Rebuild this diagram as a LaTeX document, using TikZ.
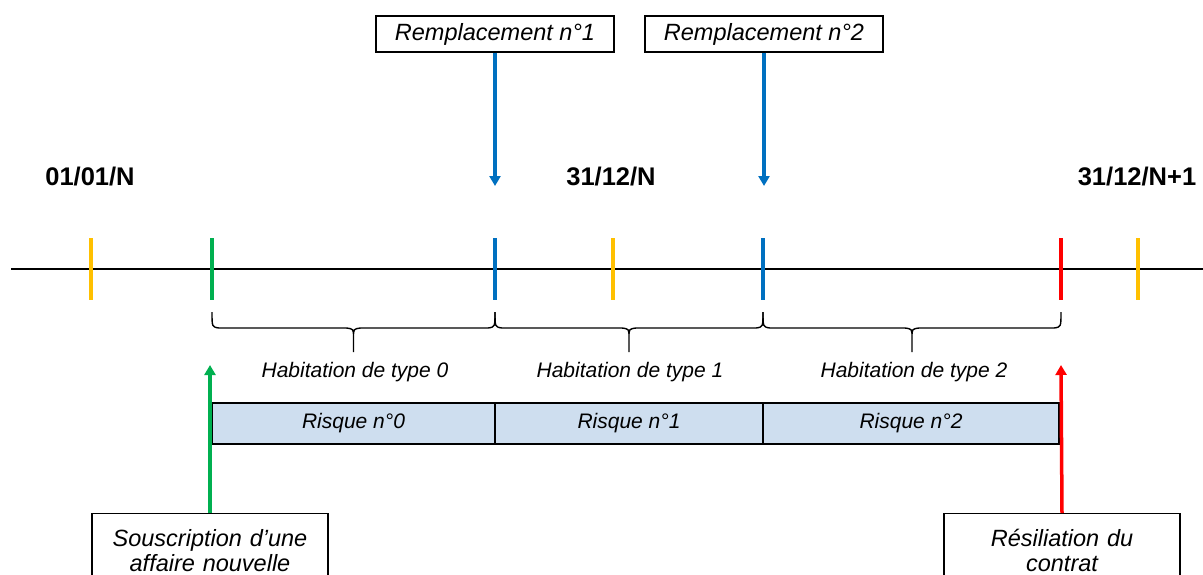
\documentclass[tikz,border=0pt]{standalone}
\usepackage{fontspec}
\setmainfont{Liberation Sans}
\usepackage{tikz}
\usetikzlibrary{arrows.meta}

\definecolor{tickyellow}{RGB}{255,192,0}
\definecolor{tickgreen}{RGB}{0,176,80}
\definecolor{tickblue}{RGB}{0,112,192}
\definecolor{tickred}{RGB}{255,0,0}
\definecolor{risquefill}{RGB}{206,222,239}

% curly bracket under a period, from x=#1 to x=#2
\newcommand{\periodbrace}[2]{%
  \draw[bracket] (#1,312) .. controls (#1,327) .. ({#1+7},328)
    -- ({(#1+#2)/2-7},328) .. controls ({(#1+#2)/2},329) .. ({(#1+#2)/2},337)
    -- ({(#1+#2)/2},352)
    ({(#1+#2)/2},337) .. controls ({(#1+#2)/2},329) .. ({(#1+#2)/2+7},328)
    -- ({#2-7},328) .. controls (#2,327) .. (#2,312);}

\begin{document}
\begin{tikzpicture}[
    x=1pt,y=-1pt,
    axis/.style={line width=2.5pt, black},
    tick/.style={line width=3.5pt},
    marker/.style={line width=3.5pt, -{Triangle[width=11pt,length=10pt]}},
    datelabel/.style={font=\fontsize{25.5}{29}\selectfont\bfseries, anchor=base},
    eventbox/.style={draw, line width=1.2pt, font=\fontsize{23.5}{27}\selectfont\itshape,
      minimum width=238pt, minimum height=36pt, inner sep=0pt},
    endbox/.style={draw, line width=1.2pt, font=\fontsize{23.5}{25}\selectfont\itshape,
      text width=226pt, align=center, anchor=north, minimum height=80pt,
      inner xsep=5pt, inner ysep=2pt, text depth=32pt},
    bracket/.style={line width=1.4pt, line join=round},
    typelabel/.style={font=\fontsize{21}{25}\selectfont\itshape, anchor=base},
    risquebox/.style={draw, line width=1.4pt, fill=risquefill,
      font=\fontsize{21}{24}\selectfont\itshape, minimum height=41pt, inner sep=0pt}
    ]
    \clip (0,0) rectangle (1203,574);
    \useasboundingbox (0,0) rectangle (1203,574);

    % time axis
    \draw[axis] (11,269) -- (1203,269);
    \draw[tick, tickyellow] (91,238) -- (91,300);
    \draw[tick, tickgreen] (212,238) -- (212,300);
    \draw[tick, tickblue] (495,238) -- (495,300);
    \draw[tick, tickyellow] (613,238) -- (613,300);
    \draw[tick, tickblue] (763,238) -- (763,300);
    \draw[tick, tickred] (1061,238) -- (1061,300);
    \draw[tick, tickyellow] (1138,238) -- (1138,300);

    % dates
    \node[datelabel] (d0) at (90,185) {01/01/N};
    \node[datelabel] (d1) at (611,185) {31/12/N};
    \node[datelabel] (d2) at (1137,185) {31/12/N+1};

    % replacements
    \node[eventbox] (rep1) at (495,34) {Remplacement n°1};
    \node[eventbox] (rep2) at (764,34) {Remplacement n°2};
    \coordinate (tip1) at (495,186);
    \coordinate (tip2) at (764,186);
    \draw[marker, tickblue] (rep1.south) -- (tip1);
    \draw[marker, tickblue] (rep2.south) -- (tip2);

    % periods
    \periodbrace{212}{495}
    \periodbrace{495}{763}
    \periodbrace{763}{1061}
    \node[typelabel] (h0) at (355,377) {Habitation de type 0};
    \node[typelabel] (h1) at (630,377) {Habitation de type 1};
    \node[typelabel] (h2) at (914,377) {Habitation de type 2};

    % risks
    \node[risquebox, minimum width=283pt] (r0) at (353.5,423.5) {Risque n°0};
    \node[risquebox, minimum width=268pt] (r1) at (629,423.5) {Risque n°1};
    \node[risquebox, minimum width=296pt] (r2) at (911,423.5) {Risque n°2};

    % start and end of contract
    \node[endbox] (souscr) at (210,513) {Souscription d’une\\affaire nouvelle};
    \node[endbox] (resil) at (1062,513) {Résiliation du\\contrat};
    \coordinate (tip3) at (210,365);
    \coordinate (tip4) at (1061,365);
    \draw[marker, tickgreen] (souscr.north) -- (tip3);
    \draw[marker, tickred] (resil.north) -- (tip4);
  \end{tikzpicture}
\end{document}
